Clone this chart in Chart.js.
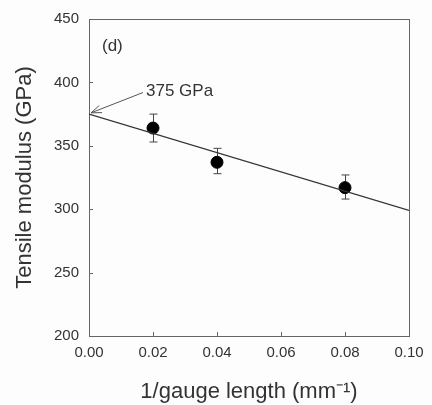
<!DOCTYPE html>
<html>
<head>
    <title>Tensile modulus</title>
    <script src="https://cdn.jsdelivr.net/npm/chart.js"></script>
    <style>
        body { margin: 0; background: #fdfdfd; }
        .wrap { width: 432px; height: 405px; }
    </style>
</head>
<body>
<div class="wrap"><canvas id="c" width="432" height="405"></canvas></div>
<script>
    // data
    const gaugeX = [0.02, 0.04, 0.08];
    const modulus = [364, 337, 317];
    const errLow = [353, 328, 308];
    const errHigh = [375, 348, 327];
    const fitX = [0, 0.1];
    const fitY = [375, 299];
    const xTicks = [0, 0.02, 0.04, 0.06, 0.08, 0.10];
    const yTicks = [200, 250, 300, 350, 400, 450];
    const interceptLabel = '375 GPa';
    const panelLabel = '(d)';

    const ink = '#333';
    const family = 'Arial, "Liberation Sans", sans-serif';

    // frame, inward ticks, error bars and the arrow note
    const extras = {
        id: 'extras',
        beforeDatasetsDraw(chart) {
            const { ctx, chartArea: a, scales: { x, y } } = chart;
            ctx.save();
            ctx.strokeStyle = '#666';
            ctx.lineWidth = 1;
            ctx.strokeRect(a.left + 0.5, a.top + 0.5, a.right - a.left, a.bottom - a.top);
            ctx.beginPath();
            xTicks.forEach(v => {
                const px = Math.round(x.getPixelForValue(v)) + 0.5;
                ctx.moveTo(px, a.bottom);
                ctx.lineTo(px, a.bottom - 4);
            });
            yTicks.forEach(v => {
                const py = Math.round(y.getPixelForValue(v)) + 0.5;
                ctx.moveTo(a.left, py);
                ctx.lineTo(a.left + 4, py);
            });
            ctx.stroke();

            // error bars
            ctx.strokeStyle = '#444';
            ctx.beginPath();
            gaugeX.forEach((gx, i) => {
                const px = Math.round(x.getPixelForValue(gx)) + 0.5;
                const t = y.getPixelForValue(errHigh[i]);
                const b = y.getPixelForValue(errLow[i]);
                ctx.moveTo(px, t); ctx.lineTo(px, b);
                ctx.moveTo(px - 4, t); ctx.lineTo(px + 4, t);
                ctx.moveTo(px - 4, b); ctx.lineTo(px + 4, b);
            });
            ctx.stroke();
            ctx.restore();
        },
        afterDraw(chart) {
            const { ctx, chartArea: a, scales: { x, y } } = chart;
            ctx.save();
            ctx.fillStyle = ink;
            ctx.font = '17px ' + family;
            ctx.textBaseline = 'middle';
            ctx.fillText(panelLabel, a.left + 13, a.top + 27);
            ctx.fillText(interceptLabel, a.left + 57, y.getPixelForValue(393));

            // arrow to the intercept
            const tipX = x.getPixelForValue(0) + 2;
            const tipY = y.getPixelForValue(376);
            const fromX = a.left + 54;
            const fromY = y.getPixelForValue(392);
            ctx.strokeStyle = '#555';
            ctx.lineWidth = 1;
            ctx.beginPath();
            ctx.moveTo(fromX, fromY);
            ctx.lineTo(tipX, tipY);
            const ang = Math.atan2(fromY - tipY, fromX - tipX);
            ctx.moveTo(tipX + 11 * Math.cos(ang - 0.35), tipY + 11 * Math.sin(ang - 0.35));
            ctx.lineTo(tipX, tipY);
            ctx.lineTo(tipX + 11 * Math.cos(ang + 0.35), tipY + 11 * Math.sin(ang + 0.35));
            ctx.stroke();
            ctx.restore();
        }
    };

    new Chart(document.getElementById('c'), {
        type: 'scatter',
        data: {
            datasets: [
                {
                    type: 'line',
                    data: fitX.map((v, i) => ({ x: v, y: fitY[i] })),
                    borderColor: '#333',
                    borderWidth: 1.2,
                    pointRadius: 0,
                    fill: false
                },
                {
                    data: gaugeX.map((v, i) => ({ x: v, y: modulus[i] })),
                    backgroundColor: '#000',
                    borderColor: '#000',
                    pointRadius: 6,
                    pointHoverRadius: 6
                }
            ]
        },
        options: {
            responsive: false,
            animation: false,
            layout: { padding: { top: 15, right: 23, left: 0, bottom: 0 } },
            plugins: { legend: { display: false }, tooltip: { enabled: false } },
            scales: {
                x: {
                    type: 'linear',
                    min: 0, max: 0.1,
                    afterBuildTicks: s => { s.ticks = xTicks.map(v => ({ value: v })); },
                    afterFit: s => { s.height = 69; },
                    grid: { display: false, drawTicks: false },
                    border: { display: false },
                    ticks: {
                        color: ink, padding: 8,
                        font: { size: 15, family: family },
                        maxRotation: 0,
                        callback: v => v.toFixed(2)
                    },
                    title: {
                        display: true,
                        text: '1/gauge length (mm\u207B\u00B9)',
                        color: ink,
                        font: { size: 22, family: family },
                        padding: { top: 10, bottom: 0 }
                    }
                },
                y: {
                    type: 'linear',
                    min: 200, max: 450,
                    afterBuildTicks: s => { s.ticks = yTicks.map(v => ({ value: v })); },
                    afterFit: s => { s.width = 89; },
                    grid: { display: false, drawTicks: false },
                    border: { display: false },
                    ticks: {
                        color: ink, padding: 10,
                        font: { size: 15, family: family }
                    },
                    title: {
                        display: true,
                        text: 'Tensile modulus (GPa)',
                        color: ink,
                        font: { size: 22, family: family },
                        padding: { top: 12, bottom: 0 }
                    }
                }
            }
        },
        plugins: [extras]
    });
</script>
</body>
</html>
